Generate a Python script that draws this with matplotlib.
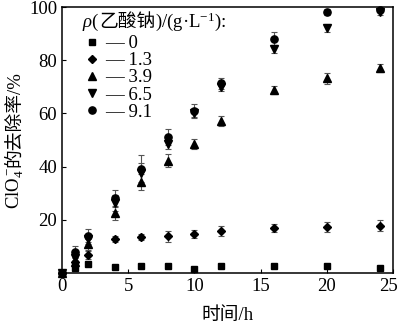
import numpy as np
import matplotlib
matplotlib.use("Agg")
import matplotlib.pyplot as plt
from matplotlib.lines import Line2D
from matplotlib.transforms import IdentityTransform, ScaledTranslation

plt.rcParams['font.family'] = ['Liberation Serif', 'Noto Sans CJK SC']
plt.rcParams['mathtext.fontset'] = 'custom'
plt.rcParams['mathtext.rm'] = 'Liberation Serif'
plt.rcParams['mathtext.it'] = 'Liberation Serif:italic'

# 时间/h
hours = [0, 1, 2, 4, 6, 8, 10, 12, 16, 20, 24]

# 乙酸钠浓度 / (g/L)
doses = ["0", "1.3", "3.9", "6.5", "9.1"]

# removal rate (%) and error bars for each dose
rate_0 = [0, 2.0, 3.5, 2.4, 2.8, 2.7, 1.6, 2.8, 2.5, 2.5, 2.0]
err_0 = [0, 0.5, 0.6, 0.5, 0.6, 0.5, 0.5, 0.5, 0.5, 0.5, 0.5]
rate_1 = [0, 4.0, 6.8, 12.8, 13.6, 13.8, 14.8, 15.8, 17.0, 17.4, 17.8]
err_1 = [0, 1.0, 1.5, 1.0, 1.2, 2.0, 1.5, 2.0, 1.5, 1.8, 2.0]
rate_2 = [0, 4.3, 10.8, 22.4, 34.3, 42.3, 48.5, 57.2, 69.0, 73.2, 77.2]
err_2 = [0, 1.5, 2.0, 2.5, 3.0, 2.5, 2.0, 2.0, 1.5, 2.0, 1.5]
rate_3 = [0, 5.5, 12.8, 26.5, 37.5, 48.5, 60.2, 70.0, 84.3, 92.2, 98.0]
err_3 = [0, 1.5, 2.0, 3.0, 4.0, 2.0, 2.0, 1.5, 1.5, 1.5, 1.0]
rate_4 = [0, 8.0, 14.0, 28.3, 39.2, 51.2, 61.0, 71.3, 88.2, 98.2, 99.0]
err_4 = [0, 2.0, 2.5, 3.0, 5.0, 3.0, 2.5, 2.0, 2.5, 1.0, 1.0]

series = [(rate_0, err_0, 's', 4.2),
          (rate_1, err_1, 'D', 4.4),
          (rate_2, err_2, '^', 5.4),
          (rate_3, err_3, 'v', 5.4),
          (rate_4, err_4, 'o', 5.2)]

FS = 13.5

fig = plt.figure(figsize=(4.0, 3.25), dpi=100)
ax = fig.add_axes([0.155, 0.16, 0.8275, 0.818])

handles = []
for (rate, err, marker, ms), dose in zip(series, doses):
    ax.errorbar(hours, rate, yerr=err, fmt=marker, color='black', ms=ms,
                ecolor='#555555', elinewidth=0.8, capsize=2.5, capthick=0.8,
                clip_on=False, zorder=3)
    handles.append(Line2D([], [], ls='none', marker=marker, color='black', ms=ms))

ax.set_xlim(0, 25)
ax.set_ylim(0, 100)
ax.set_xticks([0, 5, 10, 15, 20, 25])
ax.set_yticks([20, 40, 60, 80, 100])
ax.tick_params(direction='in', length=3, width=0.8, labelsize=FS)
for side in ax.spines.values():
    side.set_linewidth(1.1)

# keep the last x tick label inside the figure
last = ax.get_xticklabels()[-1]
last.set_transform(last.get_transform() + ScaledTranslation(-3 / 72, 0, fig.dpi_scale_trans))

ax.set_xlabel("时间/h", fontsize=FS, labelpad=9)

leg = ax.legend(handles, ["— " + d for d in doses],
                loc='upper left', bbox_to_anchor=(0.074, 0.895),
                frameon=False, fontsize=FS,
                handlelength=0.6, handletextpad=0.4, labelspacing=0.0,
                borderpad=0.0, borderaxespad=0.0)


def run_text(pieces, x, y, rotation=0):
    """Lay out mixed mathtext / CJK pieces one after another, in pixels."""
    renderer = fig.canvas.get_renderer()
    texts = []
    for s in pieces:
        t = fig.text(x, y, s, transform=IdentityTransform(), fontsize=FS,
                     rotation=rotation, rotation_mode='anchor',
                     ha='left', va='baseline')
        texts.append(t)
        bb = t.get_window_extent(renderer)
        if rotation == 90:
            y += bb.height
        else:
            x += bb.width
    return texts


# measure the y label first so it can be centred on the axes
renderer = fig.canvas.get_renderer()
ylabel_parts = ["ClO$_4^-$", "的去除率/%"]
total = 0
for s in ylabel_parts:
    t = fig.text(0, 0, s, fontsize=FS, rotation=90)
    total += t.get_window_extent(renderer).height
    t.remove()
run_text(ylabel_parts, 19, 185 - total / 2, rotation=90)

# legend title: ρ(乙酸钠)/(g·L⁻¹):
run_text(["$\\it{\\rho}$(", "乙酸钠", ")/(g·L$^{-1}$):"], 82, 325 - 27)

fig.savefig("out.png", dpi=100)
